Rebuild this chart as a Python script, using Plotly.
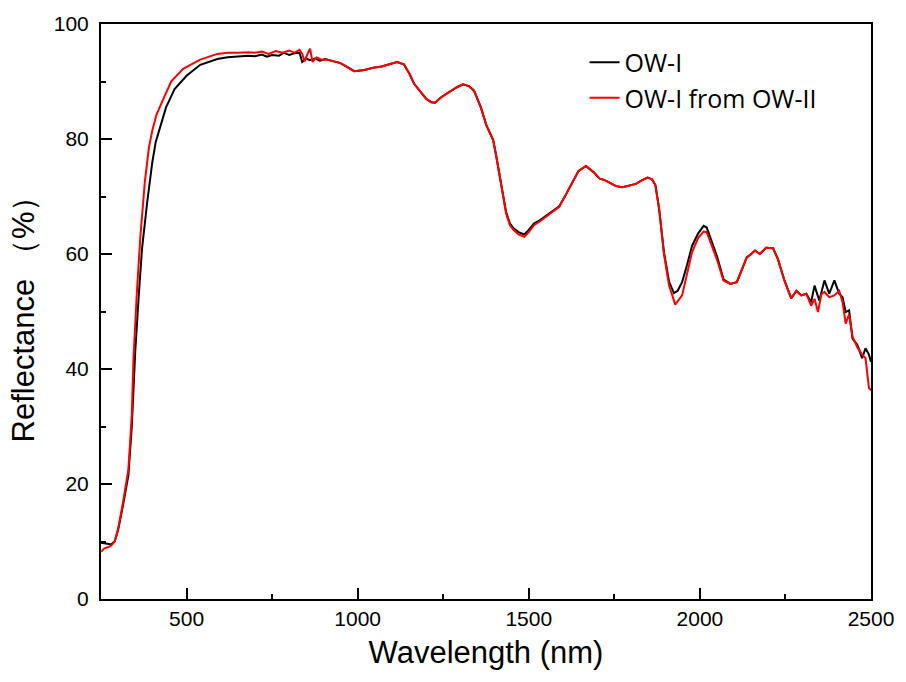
import plotly.graph_objects as go

# OW-I (black)
wl_black = [250, 265, 280, 290, 300, 315, 330, 340, 350, 360, 370, 385, 400, 410, 425, 440, 465, 500, 540, 590,
            620, 650, 680, 700, 720, 735, 750, 770, 785, 800, 815, 830, 838, 850, 860, 875, 890, 905, 925, 950,
            970, 990, 1020, 1045, 1070, 1095, 1115, 1135, 1150, 1165, 1182, 1200, 1215, 1226, 1245, 1270, 1290,
            1308, 1325, 1340, 1360, 1376, 1390, 1396, 1405, 1415, 1425, 1434, 1445, 1455, 1470, 1487, 1500, 1515,
            1531, 1550, 1570, 1589, 1610, 1628, 1645, 1667, 1690, 1707, 1720, 1736, 1755, 1774, 1795, 1813, 1830,
            1847, 1860, 1870, 1881, 1895, 1910, 1924, 1935, 1948, 1962, 1977, 1995, 2011, 2020, 2035, 2050, 2069,
            2089, 2108, 2122, 2137, 2150, 2161, 2175, 2194, 2214, 2228, 2247, 2260, 2267, 2282, 2296, 2311, 2325,
            2335, 2349, 2364, 2378, 2393, 2407, 2417, 2426, 2436, 2446, 2460, 2474, 2484, 2494, 2500]
r_black = [9.8, 9.6, 9.5, 10.0, 12.0, 16.5, 21.5, 30, 43, 52.5, 61, 69, 76, 79.5, 82.5, 85.5, 88.7, 91, 92.9, 93.9,
           94.2, 94.4, 94.5, 94.4, 94.7, 94.3, 94.6, 94.5, 95.0, 94.6, 94.9, 95.0, 93.4, 94.0, 93.7, 94.0, 93.6, 93.9, 93.6, 93.2,
           92.5, 91.8, 92.0, 92.4, 92.6, 93.0, 93.4, 93.0, 91.5, 89.6, 88.3, 87.0, 86.4, 86.3, 87.3, 88.3, 89.0,
           89.5, 89.2, 88.4, 85.5, 82.4, 80.5, 79.8, 77, 73.5, 70, 67.2, 65.3, 64.5, 63.8, 63.4, 64.2, 65.3,
           65.8, 66.6, 67.4, 68.3, 70.5, 72.5, 74.4, 75.3, 74.2, 73.1, 72.9, 72.4, 71.8, 71.6, 71.9, 72.2, 72.8,
           73.3, 73.0, 72, 67.8, 60.3, 55.2, 53.2, 53.6, 55.1, 58.0, 61.4, 63.6, 64.9, 64.6, 62.0, 59.6, 55.6,
           54.8, 55.1, 57.1, 59.4, 60.0, 60.6, 60.0, 61.1, 61.0, 59.1, 55.4, 53.5, 52.3, 53.6, 52.8, 53.1, 51.6,
           54.5, 51.9, 55.4, 53.1, 55.4, 53.1, 52.5, 49.9, 50.2, 45.3, 44.2, 41.9, 43.6, 42.5, 41.2]

# OW-I from OW-II (red)
wl_red = [250, 260, 270, 280, 290, 300, 315, 330, 340, 345, 355, 365, 378, 390, 400, 412, 431, 455, 490, 540, 590,
          620, 650, 680, 700, 720, 740, 760, 780, 800, 815, 830, 838, 845, 855, 861, 868, 880, 895, 910, 930, 950,
          970, 990, 1020, 1045, 1070, 1095, 1115, 1135, 1150, 1165, 1182, 1200, 1215, 1226, 1245, 1270, 1290,
          1308, 1325, 1340, 1360, 1376, 1390, 1396, 1405, 1415, 1425, 1434, 1445, 1455, 1470, 1487, 1500, 1515,
          1531, 1550, 1570, 1589, 1610, 1628, 1645, 1667, 1690, 1707, 1720, 1736, 1755, 1774, 1795, 1813, 1830,
          1847, 1860, 1870, 1881, 1895, 1910, 1928, 1948, 1962, 1977, 1995, 2011, 2020, 2035, 2050, 2069,
          2089, 2108, 2122, 2137, 2150, 2161, 2175, 2194, 2214, 2228, 2247, 2260, 2267, 2282, 2296, 2311, 2325,
          2335, 2345, 2355, 2364, 2378, 2393, 2407, 2417, 2426, 2436, 2446, 2460, 2474, 2484, 2494, 2500]
r_red = [8.2, 8.8, 9.0, 9.3, 10.0, 12.2, 17.0, 22.5, 32, 42, 53.5, 63, 72.5, 78.5, 81.5, 84.2, 86.8, 90, 92.2, 93.8, 94.8,
         95.0, 95.0, 95.1, 95.0, 95.2, 94.8, 95.3, 95.0, 95.4, 95.0, 95.5, 94.8, 93.5, 95.0, 95.7, 93.4, 94.2, 93.8, 93.8, 93.5, 93.2,
         92.5, 91.8, 92.0, 92.4, 92.6, 93.0, 93.4, 93.0, 91.5, 89.6, 88.3, 87.0, 86.4, 86.3, 87.3, 88.3, 89.0,
         89.5, 89.2, 88.4, 85.5, 82.4, 80.5, 79.8, 77, 73.5, 70, 67.0, 65.0, 64.2, 63.4, 63.0, 63.8, 65.0,
         65.6, 66.4, 67.3, 68.2, 70.5, 72.5, 74.4, 75.3, 74.2, 73.1, 72.9, 72.4, 71.8, 71.6, 71.9, 72.2, 72.8,
         73.3, 73.0, 72, 67.8, 60.0, 54.5, 51.2, 52.8, 56.5, 60.3, 62.8, 63.9, 63.8, 61.4, 59.0, 55.4,
         54.8, 55.1, 57.1, 59.4, 60.0, 60.6, 60.0, 61.1, 61.0, 59.1, 55.4, 53.5, 52.3, 53.6, 52.8, 53.1, 51.0,
         52.2, 49.9, 53.0, 53.4, 52.5, 52.8, 53.6, 51.6, 47.9, 49.5, 45.6, 43.8, 42.5, 41.9, 36.7, 36.3]

x_ticks = [500, 1000, 1500, 2000, 2500]
y_ticks = [0, 20, 40, 60, 80, 100]

fig = go.Figure()
fig.add_trace(go.Scatter(x=wl_black, y=r_black, mode="lines", name="OW-I",
                         line=dict(color="#000000", width=2)))
fig.add_trace(go.Scatter(x=wl_red, y=r_red, mode="lines", name="OW-I from OW-II",
                         line=dict(color="#FF0000", width=2)))

axis_common = dict(showline=True, linecolor="black", linewidth=2, mirror=True,
                   ticks="inside", ticklen=11, tickwidth=2, tickcolor="black",
                   showgrid=False, zeroline=False,
                   tickfont=dict(family="Liberation Sans, Arial", size=21, color="black"))

fig.update_layout(
    width=906, height=682,
    margin=dict(l=101, r=29, t=20, b=83),
    plot_bgcolor="white", paper_bgcolor="white",
    showlegend=True,
    legend=dict(x=0.628, y=0.973, xanchor="left", yanchor="top",
                bgcolor="rgba(0,0,0,0)", borderwidth=0,
                font=dict(family="Open Sans, Liberation Sans", size=25, color="black"),
                tracegroupgap=0),
    xaxis=dict(range=[250, 2500], tickvals=x_ticks,
               minor=dict(ticks="inside", ticklen=5, tickwidth=2, tickcolor="black", dtick=250, tick0=0),
               title=dict(text="Wavelength (nm)", font=dict(family="Liberation Sans, Arial", size=31, color="black"),
                          standoff=12),
               **axis_common),
    yaxis=dict(range=[0, 100], tickvals=y_ticks, ticklabelstandoff=6,
               minor=dict(ticks="inside", ticklen=5, tickwidth=2, tickcolor="black", dtick=10, tick0=0),
               title=dict(text="Reflectance （%）", font=dict(family="Liberation Sans, Arial", size=31, color="black"),
                          standoff=10),
               **axis_common),
)

fig.write_html("out.html")
